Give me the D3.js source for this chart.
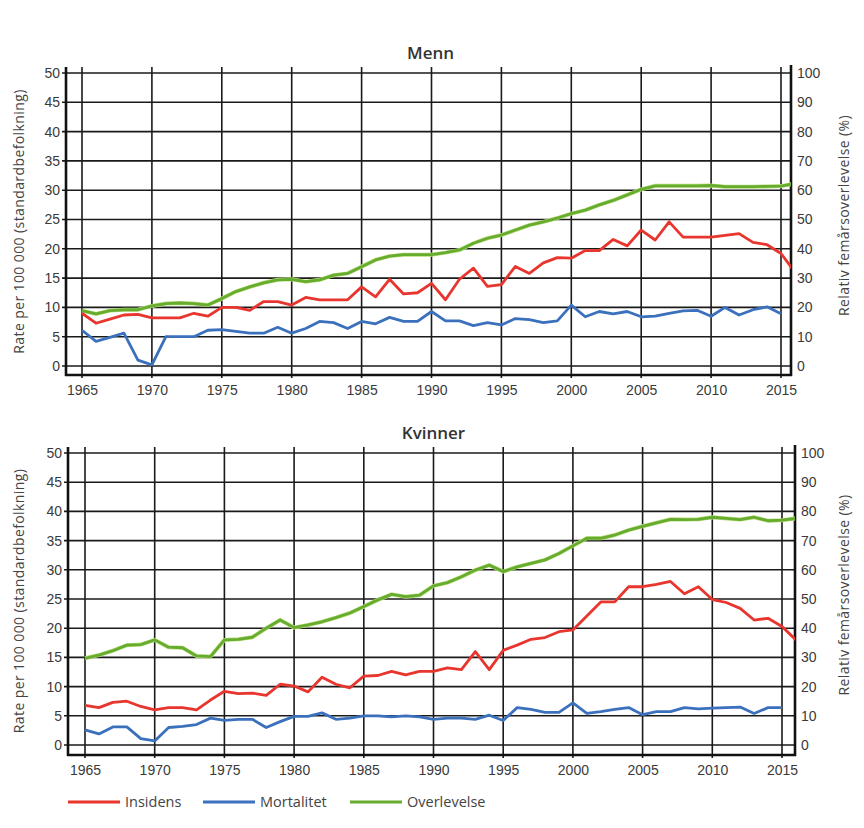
<!DOCTYPE html>
<html>
<meta charset="utf-8">
<style>
body { margin: 0; background: #fff; }
svg { font-family: "Open Sans", "Noto Sans", sans-serif; }
.tick text { font-size: 14px; fill: #3a3a3a; }
.grid line { stroke: #1a1a1a; stroke-width: 1.6; }
.axisline { stroke: #111; stroke-width: 2.6; }
.title { font-size: 17px; font-weight: 600; fill: #333; }
.ylab { font-size: 14px; fill: #444; letter-spacing: 0.4px; }
path.line { fill: none; stroke-width: 2.8; stroke-linejoin: round; }
path.insidens { stroke: #e8352d; }
path.mortalitet { stroke: #3b70bd; }
path.overlevelse { stroke: #66ad2f; }
path.overlevelse-halo { stroke: #b9dc7c; stroke-width: 4; fill: none; }
.legend text { font-size: 14.5px; fill: #444; }
</style>
<body>
<div id="chart"></div>

<script src="https://d3js.org/d3.v7.min.js"></script>
<script>

var years = d3.range(1965, 2017);
var leftTicks = d3.range(0, 55, 5);
var rightTicks = d3.range(0, 110, 10);
var yearTicks = d3.range(1965, 2020, 5);

// Menn, rate per 100 000 (1965-2016; mortality to 2015)
var mennInsidens = [9, 7.3, 8, 8.7, 8.8, 8.2, 8.2, 8.2, 9, 8.5,
  10, 10, 9.5, 11, 11, 10.4, 11.7, 11.3, 11.3, 11.3,
  13.5, 11.8, 14.8, 12.3, 12.5, 14.1, 11.3, 14.8, 16.7, 13.6,
  13.9, 17, 15.8, 17.6, 18.5, 18.4, 19.7, 19.7, 21.6, 20.5,
  23.2, 21.5, 24.6, 22, 22, 22, 22.3, 22.6, 21.1, 20.7,
  19.2, 16];
var mennMortalitet = [6.1, 4.2, 4.9, 5.6, 1, 0.2, 5, 5, 5, 6.1,
  6.2, 5.9, 5.6, 5.6, 6.6, 5.6, 6.4, 7.6, 7.4, 6.4,
  7.6, 7.2, 8.3, 7.6, 7.6, 9.3, 7.7, 7.7, 6.9, 7.4,
  7, 8.1, 7.9, 7.4, 7.7, 10.4, 8.4, 9.3, 8.9, 9.3,
  8.4, 8.5, 9, 9.4, 9.5, 8.5, 10, 8.7, 9.6, 10.1,
  8.9];
// relative five-year survival, %
var mennOverlevelse = [18.9, 17.8, 18.9, 19.2, 19.2, 20.5, 21.3, 21.5, 21.3, 20.8,
  23, 25.4, 27, 28.4, 29.4, 29.6, 28.8, 29.4, 31, 31.6,
  33.9, 36.2, 37.5, 38, 38, 38, 38.7, 39.6, 41.9, 43.6,
  44.7, 46.4, 48.1, 49.2, 50.5, 52, 53.2, 55, 56.5, 58.4,
  60.3, 61.5, 61.5, 61.5, 61.5, 61.6, 61.2, 61.2, 61.2, 61.3,
  61.4, 62.3];

// Kvinner
var kvinnerInsidens = [6.8, 6.4, 7.3, 7.5, 6.6, 6, 6.4, 6.4, 6, 7.7,
  9.2, 8.8, 8.9, 8.5, 10.4, 10.1, 9.1, 11.6, 10.4, 9.8,
  11.8, 11.9, 12.6, 12, 12.6, 12.6, 13.2, 12.9, 16, 12.9,
  16.2, 17.1, 18.1, 18.4, 19.4, 19.7, 22.1, 24.5, 24.5, 27.1,
  27.1, 27.5, 28, 25.9, 27.1, 24.9, 24.4, 23.4, 21.4, 21.7,
  20.3, 18];
var kvinnerMortalitet = [2.6, 1.9, 3.1, 3.1, 1.1, 0.7, 3, 3.2, 3.5, 4.6,
  4.2, 4.4, 4.4, 3, 4, 4.9, 4.9, 5.5, 4.4, 4.6,
  5, 5, 4.8, 5, 4.8, 4.4, 4.6, 4.6, 4.4, 5.1,
  4.2, 6.4, 6.1, 5.6, 5.6, 7.2, 5.4, 5.7, 6.1, 6.4,
  5.2, 5.7, 5.7, 6.4, 6.2, 6.3, 6.4, 6.5, 5.4, 6.4,
  6.4];
var kvinnerOverlevelse = [29.7, 30.8, 32.3, 34.2, 34.4, 36, 33.5, 33.3, 30.5, 30.3,
  36, 36.2, 36.9, 40, 42.8, 40.2, 41.1, 42.2, 43.6, 45.2,
  47.4, 49.7, 51.6, 50.8, 51.3, 54.5, 55.6, 57.6, 59.9, 61.6,
  59.4, 61, 62.2, 63.4, 65.6, 68.2, 70.8, 70.8, 71.9, 73.6,
  74.9, 76.1, 77.3, 77.2, 77.3, 78, 77.6, 77.2, 78, 76.8,
  77, 77.6];

var panels = [
  {title: "Menn", insidens: mennInsidens, mortalitet: mennMortalitet, overlevelse: mennOverlevelse,
   x0: 82, x1: 781, left: 66, right: 791, y0: 366, y50: 73, axisY: 375, top: 67, titleY: 59},
  {title: "Kvinner", insidens: kvinnerInsidens, mortalitet: kvinnerMortalitet, overlevelse: kvinnerOverlevelse,
   x0: 85, x1: 782, left: 68, right: 795, y0: 745, y50: 453, axisY: 755, top: 447, titleY: 439}
];

var svg = d3.select("#chart").append("svg")
    .attr("width", 864)
    .attr("height", 828);

panels.forEach(function(p, i) {
  var x = d3.scaleLinear().domain([1965, 2015]).range([p.x0, p.x1]);
  var y = d3.scaleLinear().domain([0, 50]).range([p.y0, p.y50]);
  var yR = d3.scaleLinear().domain([0, 100]).range([p.y0, p.y50]);

  var g = svg.append("g");

  svg.append("clipPath")
      .attr("id", "clip" + i)
    .append("rect")
      .attr("x", p.left)
      .attr("y", p.top)
      .attr("width", p.right - p.left)
      .attr("height", p.axisY - p.top);

  // grid
  var grid = g.append("g").attr("class", "grid");
  grid.selectAll("line.h")
      .data(leftTicks)
    .enter().append("line")
      .attr("x1", p.left - 4)
      .attr("x2", p.right)
      .attr("y1", function(d) { return y(d); })
      .attr("y2", function(d) { return y(d); });
  grid.selectAll("line.v")
      .data(yearTicks.filter(function(d) { return d <= 2015; }))
    .enter().append("line")
      .attr("x1", function(d) { return x(d); })
      .attr("x2", function(d) { return x(d); })
      .attr("y1", p.top)
      .attr("y2", p.axisY + 3);

  // axes
  var yAxis = d3.axisLeft(y).tickValues(leftTicks).tickSize(0).tickPadding(6);
  g.append("g")
      .attr("transform", "translate(" + p.left + ",0)")
      .call(yAxis)
      .call(function(a) { a.select(".domain").remove(); });

  var yAxisR = d3.axisRight(yR).tickValues(rightTicks).tickSize(0).tickPadding(6);
  g.append("g")
      .attr("transform", "translate(" + p.right + ",0)")
      .call(yAxisR)
      .call(function(a) { a.select(".domain").remove(); });

  var xAxis = d3.axisBottom(x).tickValues(yearTicks.filter(function(d) { return d <= 2015; }))
      .tickFormat(d3.format("d")).tickSize(0).tickPadding(10);
  g.append("g")
      .attr("transform", "translate(0," + p.axisY + ")")
      .call(xAxis)
      .call(function(a) { a.select(".domain").remove(); });

  g.append("line").attr("class", "axisline")
      .attr("x1", p.left).attr("x2", p.left).attr("y1", p.top).attr("y2", p.axisY + 1);
  g.append("line").attr("class", "axisline")
      .attr("x1", p.right).attr("x2", p.right).attr("y1", p.top - 2).attr("y2", p.axisY + 1);
  g.append("line").attr("class", "axisline")
      .attr("x1", p.left - 1).attr("x2", p.right + 1).attr("y1", p.axisY).attr("y2", p.axisY);

  // lines
  var line = d3.line()
      .x(function(d, j) { return x(years[j]); })
      .y(function(d) { return y(d); });
  var lineR = d3.line()
      .x(function(d, j) { return x(years[j]); })
      .y(function(d) { return yR(d); });

  var lines = g.append("g").attr("clip-path", "url(#clip" + i + ")");
  lines.append("path").datum(p.overlevelse).attr("class", "overlevelse-halo").attr("d", lineR);
  lines.append("path").datum(p.overlevelse).attr("class", "line overlevelse").attr("d", lineR);
  lines.append("path").datum(p.mortalitet).attr("class", "line mortalitet").attr("d", line);
  lines.append("path").datum(p.insidens).attr("class", "line insidens").attr("d", line);

  // labels
  g.append("text").attr("class", "title")
      .attr("x", (p.left + p.right) / 2 + 2).attr("y", p.titleY)
      .attr("text-anchor", "middle").text(p.title);

  var midY = (p.y0 + p.y50) / 2;
  g.append("text").attr("class", "ylab")
      .attr("transform", "translate(24," + (midY + 2) + ") rotate(-90)")
      .attr("text-anchor", "middle")
      .text("Rate per 100 000 (standardbefolkning)");
  g.append("text").attr("class", "ylab")
      .attr("transform", "translate(849," + (midY - 4) + ") rotate(-90)")
      .attr("text-anchor", "middle")
      .text("Relativ femårsoverlevelse (%)");
});

// legend
var legendItems = ["Insidens", "Mortalitet", "Overlevelse"];
var legendX = [68, 203, 350];
var legendClass = ["insidens", "mortalitet", "overlevelse"];

var legend = svg.append("g").attr("class", "legend");
legendItems.forEach(function(name, i) {
  legend.append("path")
      .attr("class", "line " + legendClass[i])
      .attr("d", "M" + legendX[i] + ",802H" + (legendX[i] + 52));
  legend.append("text")
      .attr("x", legendX[i] + 57)
      .attr("y", 807)
      .text(name);
});

</script>
</body>
</html>
